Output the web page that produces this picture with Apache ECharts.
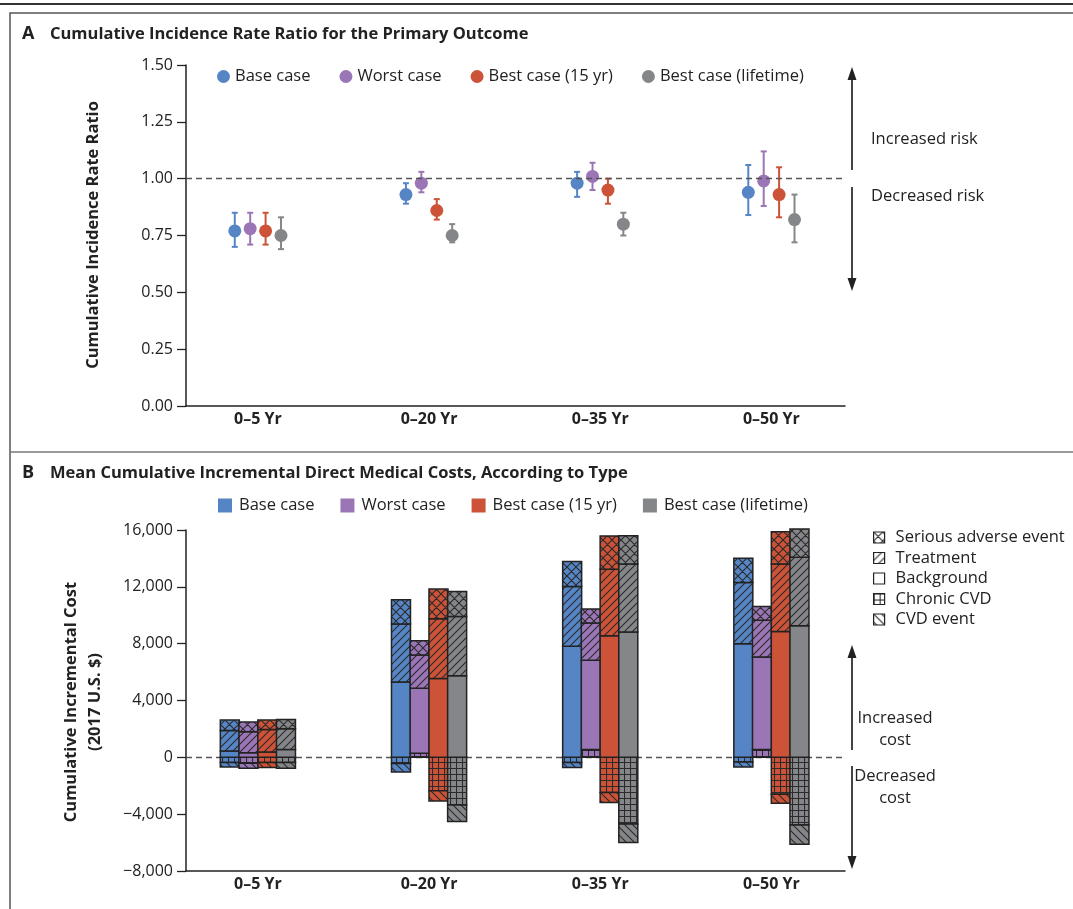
<!DOCTYPE html>
<html>
<head>
<meta charset="utf-8">
<script src="https://cdn.jsdelivr.net/npm/echarts@6/dist/echarts.min.js"></script>
<style>
html,body{margin:0;padding:0;background:#fff;}
#chart{width:1073px;height:909px;}
</style>
</head>
<body>
<div id="chart"></div>
<script>
// ---------- DATA ----------
const categories = ['0–5 Yr', '0–20 Yr', '0–35 Yr', '0–50 Yr'];
const scenarios = ['Base case', 'Worst case', 'Best case (15 yr)', 'Best case (lifetime)'];
const costTypes = ['Serious adverse event', 'Treatment', 'Background', 'Chronic CVD', 'CVD event'];
const rateTicks = [0, 0.25, 0.5, 0.75, 1.0, 1.25, 1.5];
const costTicks = [-8000, -4000, 0, 4000, 8000, 12000, 16000];

// Panel A: cumulative incidence rate ratio (point, lower, upper)
const rrBase      = [0.77, 0.93, 0.98, 0.94];
const rrBaseLo    = [0.70, 0.89, 0.92, 0.84];
const rrBaseHi    = [0.85, 0.98, 1.03, 1.06];
const rrWorst     = [0.78, 0.98, 1.01, 0.99];
const rrWorstLo   = [0.71, 0.94, 0.95, 0.88];
const rrWorstHi   = [0.85, 1.03, 1.07, 1.12];
const rrBest15    = [0.77, 0.86, 0.95, 0.93];
const rrBest15Lo  = [0.71, 0.82, 0.89, 0.83];
const rrBest15Hi  = [0.85, 0.91, 1.00, 1.05];
const rrBestLife   = [0.75, 0.75, 0.80, 0.82];
const rrBestLifeLo = [0.69, 0.72, 0.75, 0.72];
const rrBestLifeHi = [0.83, 0.80, 0.85, 0.93];

// Panel B: incremental costs by type; rows = scenarios, columns = categories
const costBackground = [
  [440, 5310, 7810, 8000],
  [330, 4580, 6270, 6510],
  [370, 5550, 8560, 8860],
  [560, 5750, 8820, 9260]
];
const costTreatment = [
  [1450, 4070, 4210, 4300],
  [1470, 2340, 2620, 2570],
  [1590, 4210, 4680, 4750],
  [1450, 4170, 4790, 4830]
];
const costSAE = [
  [730, 1710, 1760, 1710],
  [680, 1010, 990, 980],
  [660, 2080, 2340, 2270],
  [660, 1750, 1990, 1980]
];
const costChronic = [
  [-370, -440, -370, -330],
  [-420, 280, 560, 560],
  [-370, -2360, -2480, -2600],
  [-370, -3350, -4700, -4770]
];
const costCvdEvent = [
  [-310, -590, -350, -350],
  [-350, 0, 0, 0],
  [-350, -710, -700, -630],
  [-400, -1160, -1290, -1340]
];

// ---------- STYLE ----------
const FONT = '"Open Sans", "Liberation Sans", sans-serif';
const colors = ['#5585c5', '#9b76b6', '#cc5238', '#858689'];
const dotOffsets = [-0.135, -0.045, 0.045, 0.135];
const barOffsets = [-0.164, -0.055, 0.055, 0.164];
const BAR_W = 19;

function makeTile(base, kind) {
  const c = document.createElement('canvas');
  let w = 8, h = 8;
  if (kind === 'cross') { w = 9; h = 9; }
  if (kind === 'grid') { w = 6; h = 6; }
  c.width = w; c.height = h;
  const ctx = c.getContext('2d');
  ctx.fillStyle = base;
  ctx.fillRect(0, 0, w, h);
  if (kind === 'solid') return c;
  ctx.strokeStyle = '#2b2b2b';
  ctx.lineWidth = 1.1;
  ctx.beginPath();
  const slash = () => {
    ctx.moveTo(-1, h + 1); ctx.lineTo(w + 1, -1);
    ctx.moveTo(-2, 2); ctx.lineTo(2, -2);
    ctx.moveTo(w - 2, h + 2); ctx.lineTo(w + 2, h - 2);
  };
  const back = () => {
    ctx.moveTo(-1, -1); ctx.lineTo(w + 1, h + 1);
    ctx.moveTo(-2, h - 2); ctx.lineTo(2, h + 2);
    ctx.moveTo(w - 2, -2); ctx.lineTo(w + 2, 2);
  };
  if (kind === 'slash') slash();
  if (kind === 'back') back();
  if (kind === 'cross') { slash(); back(); }
  if (kind === 'grid') {
    ctx.moveTo(0.5, 0); ctx.lineTo(0.5, h);
    ctx.moveTo(0, 0.5); ctx.lineTo(w, 0.5);
  }
  ctx.stroke();
  return c;
}
const kindByType = {
  'Serious adverse event': 'cross',
  'Treatment': 'slash',
  'Background': 'solid',
  'Chronic CVD': 'grid',
  'CVD event': 'back'
};
const costByType = {
  'Serious adverse event': costSAE,
  'Treatment': costTreatment,
  'Background': costBackground,
  'Chronic CVD': costChronic,
  'CVD event': costCvdEvent
};
const stackOrder = ['Chronic CVD', 'Background', 'Treatment', 'Serious adverse event', 'CVD event'];

// ---------- SERIES ----------
const series = [];
const rrSets = [
  [rrBase, rrBaseLo, rrBaseHi],
  [rrWorst, rrWorstLo, rrWorstHi],
  [rrBest15, rrBest15Lo, rrBest15Hi],
  [rrBestLife, rrBestLifeLo, rrBestLifeHi]
];
rrSets.forEach(function (set, s) {
  const col = colors[s];
  series.push({
    type: 'custom',
    name: scenarios[s] + ' CI',
    xAxisIndex: 0, yAxisIndex: 0,
    data: categories.map(function (c, i) { return [i + dotOffsets[s], set[1][i], set[2][i]]; }),
    encode: { x: 0, y: [1, 2] },
    silent: true,
    z: 3,
    renderItem: function (params, api) {
      const x = api.value(0);
      const lo = api.coord([x, api.value(1)]);
      const hi = api.coord([x, api.value(2)]);
      const cw = 3;
      const st = { stroke: col, lineWidth: 2 };
      return {
        type: 'group',
        children: [
          { type: 'line', shape: { x1: hi[0], y1: hi[1], x2: lo[0], y2: lo[1] }, style: st },
          { type: 'line', shape: { x1: hi[0] - cw, y1: hi[1], x2: hi[0] + cw, y2: hi[1] }, style: st },
          { type: 'line', shape: { x1: lo[0] - cw, y1: lo[1], x2: lo[0] + cw, y2: lo[1] }, style: st }
        ]
      };
    }
  });
  const sc = {
    type: 'scatter',
    name: scenarios[s],
    xAxisIndex: 0, yAxisIndex: 0,
    symbol: 'circle',
    symbolSize: 13,
    itemStyle: { color: col, opacity: 1 },
    data: categories.map(function (c, i) { return [i + dotOffsets[s], set[0][i]]; }),
    z: 4
  };
  if (s === 0) {
    sc.markLine = {
      silent: true, symbol: 'none',
      label: { show: false },
      lineStyle: { color: '#555', type: [6, 4], width: 1.3 },
      data: [{ yAxis: 1.0 }]
    };
  }
  series.push(sc);
});

// stacked cost segments (stack built from the named arrays)
scenarios.forEach(function (scen, s) {
  const posBase = [0, 0, 0, 0];
  const negBase = [0, 0, 0, 0];
  const segs = {};
  stackOrder.forEach(function (type) { segs[type] = []; });
  categories.forEach(function (c, i) {
    stackOrder.forEach(function (type) {
      const v = costByType[type][s][i];
      if (v > 0) {
        segs[type].push([i + barOffsets[s], posBase[i], posBase[i] + v]);
        posBase[i] += v;
      } else if (v < 0) {
        segs[type].push([i + barOffsets[s], negBase[i], negBase[i] + v]);
        negBase[i] += v;
      }
    });
  });
  stackOrder.forEach(function (type) {
    const pattern = { image: makeTile(colors[s], kindByType[type]), repeat: 'repeat' };
    series.push({
      type: 'custom',
      name: scen + ' · ' + type,
      xAxisIndex: 1, yAxisIndex: 1,
      data: segs[type],
      encode: { x: 0, y: [1, 2] },
      silent: true,
      z: 2,
      renderItem: function (params, api) {
        const x = api.value(0);
        const p0 = api.coord([x, api.value(1)]);
        const p1 = api.coord([x, api.value(2)]);
        return {
          type: 'rect',
          shape: { x: p0[0] - BAR_W / 2, y: Math.min(p0[1], p1[1]), width: BAR_W, height: Math.abs(p1[1] - p0[1]) },
          style: { fill: pattern, stroke: '#222', lineWidth: 1.5 }
        };
      }
    });
  });
});

// zero reference line + dummy series for the pattern legend
series.push({
  type: 'line', name: 'zero', xAxisIndex: 1, yAxisIndex: 1, data: [], silent: true,
  markLine: {
    silent: true, symbol: 'none', label: { show: false },
    lineStyle: { color: '#555', type: [6, 4], width: 1.3 },
    data: [{ yAxis: 0 }], z: 1
  }
});
costTypes.forEach(function (type) {
  series.push({
    type: 'bar',
    name: type,
    xAxisIndex: 1, yAxisIndex: 1,
    barWidth: BAR_W,
    itemStyle: {
      color: { image: makeTile('#ffffff', kindByType[type]), repeat: 'repeat' },
      borderColor: '#222', borderWidth: 1.2
    },
    data: []
  });
});

// ---------- GRAPHICS ----------
const txt = { fill: '#222', font: '16.5px ' + FONT };
function arrow(x, yTop, yGapTop, yGapBot, yBot) {
  const hh = 13, hw = 4.5;
  return [
    { type: 'line', shape: { x1: x, y1: yTop + hh - 1, x2: x, y2: yGapTop }, style: { stroke: '#444', lineWidth: 2 } },
    { type: 'line', shape: { x1: x, y1: yGapBot, x2: x, y2: yBot - hh + 1 }, style: { stroke: '#444', lineWidth: 2 } },
    { type: 'polygon', shape: { points: [[x, yTop], [x - hw, yTop + hh], [x + hw, yTop + hh]] }, style: { fill: '#222' } },
    { type: 'polygon', shape: { points: [[x, yBot], [x - hw, yBot - hh], [x + hw, yBot - hh]] }, style: { fill: '#222' } }
  ];
}
const graphics = [
  { type: 'line', shape: { x1: 0, y1: 4, x2: 1073, y2: 4 }, style: { stroke: '#333', lineWidth: 2 } },
  { type: 'polyline', shape: { points: [[10, 909], [10, 13], [1073, 13]] }, style: { stroke: '#555', lineWidth: 1.5, fill: null } },
  { type: 'line', shape: { x1: 10, y1: 452, x2: 1073, y2: 452 }, style: { stroke: '#777', lineWidth: 1.5 } },
  { type: 'text', x: 22, y: 34, style: { text: 'A', font: 'bold 18px ' + FONT, fill: '#222', textVerticalAlign: 'middle' } },
  { type: 'text', x: 50, y: 34, style: { text: 'Cumulative Incidence Rate Ratio for the Primary Outcome', font: 'bold 16.5px ' + FONT, fill: '#222', textVerticalAlign: 'middle' } },
  { type: 'text', x: 22, y: 473, style: { text: 'B', font: 'bold 18px ' + FONT, fill: '#222', textVerticalAlign: 'middle' } },
  { type: 'text', x: 50, y: 473, style: { text: 'Mean Cumulative Incremental Direct Medical Costs, According to Type', font: 'bold 16.5px ' + FONT, fill: '#222', textVerticalAlign: 'middle' } },
  { type: 'text', x: 93, y: 235, rotation: Math.PI / 2, style: { text: 'Cumulative Incidence Rate Ratio', font: 'bold 16.5px ' + FONT, fill: '#222', textAlign: 'center', textVerticalAlign: 'middle' } },
  { type: 'text', x: 83, y: 702, rotation: Math.PI / 2, style: { text: 'Cumulative Incremental Cost\n(2017 U.S. $)', font: 'bold 16.5px ' + FONT, lineHeight: 24, fill: '#222', textAlign: 'center', textVerticalAlign: 'middle' } },
  { type: 'text', x: 871, y: 139, style: Object.assign({ text: 'Increased risk', textVerticalAlign: 'middle' }, txt) },
  { type: 'text', x: 871, y: 196, style: Object.assign({ text: 'Decreased risk', textVerticalAlign: 'middle' }, txt) },
  { type: 'text', x: 895, y: 729, style: Object.assign({ text: 'Increased\ncost', textAlign: 'center', textVerticalAlign: 'middle', lineHeight: 22 }, txt) },
  { type: 'text', x: 895, y: 787, style: Object.assign({ text: 'Decreased\ncost', textAlign: 'center', textVerticalAlign: 'middle', lineHeight: 22 }, txt) }
].concat(arrow(852, 67, 170, 187, 291)).concat(arrow(852, 645, 750, 766, 869));

// ---------- OPTION ----------
const axisLabelStyle = { color: '#222', fontSize: 16, fontFamily: FONT };
const catLabelStyle = {
  color: '#222', fontSize: 16, fontWeight: 'bold', fontFamily: FONT, margin: 5,
  customValues: [0, 1, 2, 3],
  formatter: function (v) { return categories[Math.round(v)]; }
};
const legendText = { color: '#222', fontSize: 16.5, fontFamily: FONT };
const option = {
  animation: false,
  backgroundColor: '#fff',
  textStyle: { fontFamily: FONT },
  grid: [
    { left: 186, right: 228, top: 65, bottom: 909 - 406 },
    { left: 186, right: 228, top: 530, bottom: 909 - 871 }
  ],
  legend: [
    {
      data: scenarios, icon: 'circle', itemWidth: 13, itemHeight: 13, itemGap: 29,
      left: 212, top: 63, selectedMode: false,
      textStyle: legendText
    },
    {
      data: scenarios, icon: 'rect', itemWidth: 14, itemHeight: 14, itemGap: 26,
      left: 213, top: 492, selectedMode: false,
      itemStyle: { borderWidth: 0 },
      textStyle: Object.assign({ padding: [0, 0, 0, 2] }, legendText)
    },
    {
      data: costTypes, icon: 'rect', itemWidth: 11, itemHeight: 11, itemGap: 3.5,
      orient: 'vertical', left: 868, top: 524, selectedMode: false,
      itemStyle: { borderColor: '#222', borderWidth: 1.2 },
      textStyle: Object.assign({ padding: [0, 0, 0, 6] }, legendText)
    }
  ],
  xAxis: [
    {
      type: 'value', gridIndex: 0, min: -0.42, max: 3.43,
      axisLine: { show: true, onZero: false, lineStyle: { color: '#222', width: 1.5 } },
      axisTick: { show: false }, splitLine: { show: false },
      axisLabel: catLabelStyle
    },
    {
      type: 'value', gridIndex: 1, min: -0.42, max: 3.43,
      axisLine: { show: true, onZero: false, lineStyle: { color: '#222', width: 1.5 } },
      axisTick: { show: false }, splitLine: { show: false },
      axisLabel: catLabelStyle
    }
  ],
  yAxis: [
    {
      type: 'value', gridIndex: 0, min: rateTicks[0], max: rateTicks[rateTicks.length - 1], interval: 0.25,
      axisLine: { show: true, onZero: false, lineStyle: { color: '#222', width: 1.5 } },
      axisTick: { show: true, length: 9, lineStyle: { color: '#222', width: 1.3 } },
      splitLine: { show: false },
      axisLabel: Object.assign({ margin: 13, formatter: function (v) { return v.toFixed(2); } }, axisLabelStyle)
    },
    {
      type: 'value', gridIndex: 1, min: costTicks[0], max: costTicks[costTicks.length - 1], interval: 4000,
      axisLine: { show: true, onZero: false, lineStyle: { color: '#222', width: 1.5 } },
      axisTick: { show: true, length: 9, lineStyle: { color: '#222', width: 1.3 } },
      splitLine: { show: false },
      axisLabel: Object.assign({
        margin: 13,
        formatter: function (v) {
          const a = Math.abs(v).toLocaleString('en-US');
          return v < 0 ? '−' + a : a;
        }
      }, axisLabelStyle)
    }
  ],
  graphic: graphics,
  series: series
};

const chart = echarts.init(document.getElementById('chart'), null, { renderer: 'canvas' });
chart.setOption(option);
</script>
</body>
</html>
